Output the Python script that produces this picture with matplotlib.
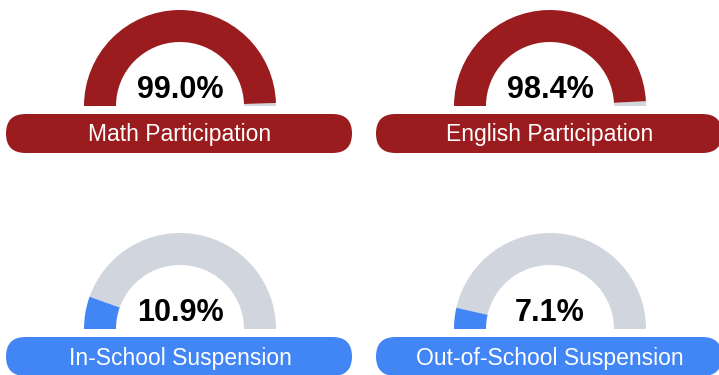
import matplotlib.pyplot as plt
from matplotlib.patches import Wedge, FancyBboxPatch

# ===================== data =====================
labels = ["Math Participation", "English Participation",
          "In-School Suspension", "Out-of-School Suspension"]
values = [99.0, 98.4, 10.9, 7.1]
fill_colors = ["#9b1c1f", "#9b1c1f", "#4285f4", "#4285f4"]
track_color = "#d1d5dd"

plt.rcParams["font.family"] = ["Liberation Sans", "DejaVu Sans"]

W, H = 719, 375
fig = plt.figure(figsize=(W / 100, H / 100), dpi=100)
ax = fig.add_axes([0, 0, 1, 1])
ax.set_xlim(0, W)
ax.set_ylim(0, H)
ax.set_aspect("equal")
ax.axis("off")

# gauge centres (x, baseline y) in pixel space, y measured from the bottom
centres = [(180, 269), (550, 269), (180, 46), (550, 46)]
pill_x = [(6, 352), (376, 722), (6, 352), (376, 722)]
R_OUT, THICK = 96, 32
PILL_H = 39


def draw_gauge(cx, cy, value, color, label, px):
    split = 180 - 180 * value / 100.0
    # grey track for the remainder, coloured arc for the value
    ax.add_patch(Wedge((cx, cy), R_OUT, 0, split, width=THICK,
                       facecolor=track_color, edgecolor="none"))
    ax.add_patch(Wedge((cx, cy), R_OUT, split, 180, width=THICK,
                       facecolor=color, edgecolor="none"))
    ax.text(cx, cy + 16, f"{value:.1f}%", ha="center", va="center",
            fontsize=22, fontweight="bold", color="black")

    # label pill under the gauge
    top = cy - 8
    x0, x1 = px
    ax.add_patch(FancyBboxPatch((x0, top - PILL_H), x1 - x0, PILL_H,
                                boxstyle=f"round,pad=0,rounding_size={PILL_H / 2}",
                                facecolor=color, edgecolor="none"))
    ax.text(cx, top - PILL_H / 2 - 1.5, label, ha="center", va="center",
            fontsize=16.5, color="white")


for (cx, cy), v, c, lab, px in zip(centres, values, fill_colors, labels, pill_x):
    draw_gauge(cx, cy, v, c, lab, px)

fig.savefig("out.png", dpi=100, facecolor="white")
